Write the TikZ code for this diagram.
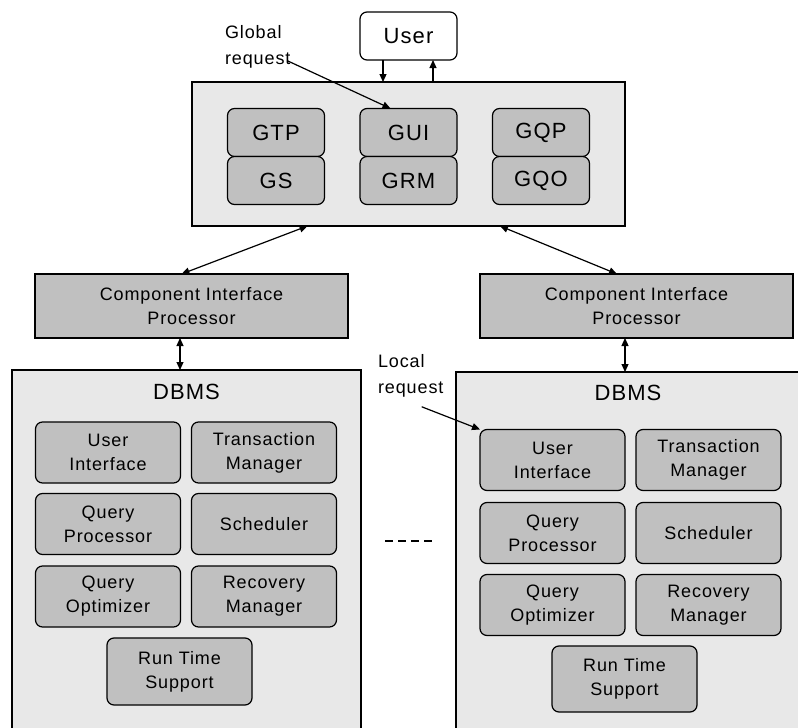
\documentclass[tikz,border=0pt]{standalone}
\usepackage{fontspec}
\setmainfont{Liberation Sans}[LetterSpace=5]
\usetikzlibrary{arrows.meta}
\definecolor{nlight}{RGB}{232, 232, 232}
\definecolor{ngray}{RGB}{192, 192, 192}
\newcommand{\bigfont}{\fontsize{22}{26}\selectfont}
\newcommand{\smallfont}{\fontsize{18}{24}\selectfont}

\begin{document}
\begin{tikzpicture}[x=1pt,y=-1pt,line width=1.2pt,>={Triangle[length=8pt,width=7pt]}]
    \tikzstyle{every node}=[inner sep=0,outer sep=0]
    \tikzstyle{globbox}=[draw,fill=nlight,line width=1.4pt,minimum width=433pt,minimum height=144pt]
    \tikzstyle{dbmsbox}=[draw,fill=nlight,line width=1.4pt,minimum height=400pt,anchor=north west]
    \tikzstyle{cipbox}=[draw,fill=ngray,line width=1.4pt,minimum width=313pt,minimum height=64pt,align=center,font=\smallfont]
    \tikzstyle{userbox}=[draw,fill=white,rounded corners=7pt,minimum width=97pt,minimum height=48pt,font=\bigfont]
    \tikzstyle{gpart}=[draw,fill=ngray,rounded corners=7pt,minimum width=97pt,minimum height=48pt,font=\bigfont]
    \tikzstyle{unit}=[draw,fill=ngray,rounded corners=7pt,minimum width=145pt,minimum height=61pt,align=center,font=\smallfont]
    \tikzstyle{headline}=[font=\bigfont]
    \tikzstyle{note}=[align=left,anchor=north west,font=\fontsize{18}{26}\selectfont]
    \path[use as bounding box] (0,0) rectangle (798,728);
    \clip (0,0) rectangle (798,728);

    % global level
    \node[userbox] (user) at (408.5,36) {User};
    \node[globbox] (glob) at (408.5,154) {};
    \node[gpart] (gtp) at (276,132.5) {GTP};
    \node[gpart] (gs) at (276,180.5) {GS};
    \node[gpart] (gui) at (408.5,132.5) {GUI};
    \node[gpart] (grm) at (408.5,180.5) {GRM};
    \node[gpart] (gqp) at (541,132.5) {GQP};
    \node[gpart] (gqo) at (541,180.5) {GQO};
    \draw[->] ([xshift=-25.5pt]user.south) -- ([xshift=-25.5pt]user.south |- glob.north);
    \draw[<-] ([xshift=24.5pt]user.south) -- ([xshift=24.5pt]user.south |- glob.north);
    \node[note] (greq) at (225,25) {Global\\request};
    \draw[->] ([xshift=-3pt,yshift=7pt]greq.south east) -- ([xshift=-18pt]gui.north);

    % component interface processors
    \node[cipbox] (cipL) at (191.5,306) {Component Interface\\Processor};
    \node[cipbox] (cipR) at (636.5,306) {Component Interface\\Processor};
    \draw[<->] ([xshift=-101pt]glob.south) -- ([xshift=-10pt]cipL.north);
    \draw[<->] ([xshift=91.5pt]glob.south) -- ([xshift=-19.5pt]cipR.north);

    % left DBMS
    \node[dbmsbox,minimum width=349pt] (dbmsL) at (12,370) {};
    \node[headline] (tL) at (186.5,392) {DBMS};
    \node[unit] (uiL) at (108,452.5) {User\\Interface};
    \node[unit] (tmL) at (264,452.5) {Transaction\\Manager};
    \node[unit] (qpL) at (108,524) {Query\\Processor};
    \node[unit] (scL) at (264,524) {Scheduler};
    \node[unit] (qoL) at (108,596.5) {Query\\Optimizer};
    \node[unit] (rmL) at (264,596.5) {Recovery\\Manager};
    \node[unit,minimum height=67pt] (rtL) at (179.5,671.5) {Run Time\\Support};
    \draw[<->] ([xshift=-11.5pt]cipL.south) -- ([xshift=-11.5pt]cipL.south |- dbmsL.north);

    % right DBMS
    \node[dbmsbox,minimum width=350pt] (dbmsR) at (456,372) {};
    \node[headline] (tR) at (628,393) {DBMS};
    \node[unit] (uiR) at (552.5,460) {User\\Interface};
    \node[unit] (tmR) at (708.5,460) {Transaction\\Manager};
    \node[unit] (qpR) at (552.5,533) {Query\\Processor};
    \node[unit] (scR) at (708.5,533) {Scheduler};
    \node[unit] (qoR) at (552.5,605) {Query\\Optimizer};
    \node[unit] (rmR) at (708.5,605) {Recovery\\Manager};
    \node[unit,minimum height=66pt] (rtR) at (624.5,679) {Run Time\\Support};
    \draw[<->] ([xshift=-11.5pt]cipR.south) -- ([xshift=-11.5pt]cipR.south |- dbmsR.north);
    \node[note] (lreq) at (378,354) {Local\\request};
    \draw[->] ([xshift=11pt,yshift=-10pt]lreq.south) -- (uiR.north west);

    % more sites
    \draw[dash pattern=on 8pt off 5pt] (385,541) -- (433,541);
\end{tikzpicture}
\end{document}
